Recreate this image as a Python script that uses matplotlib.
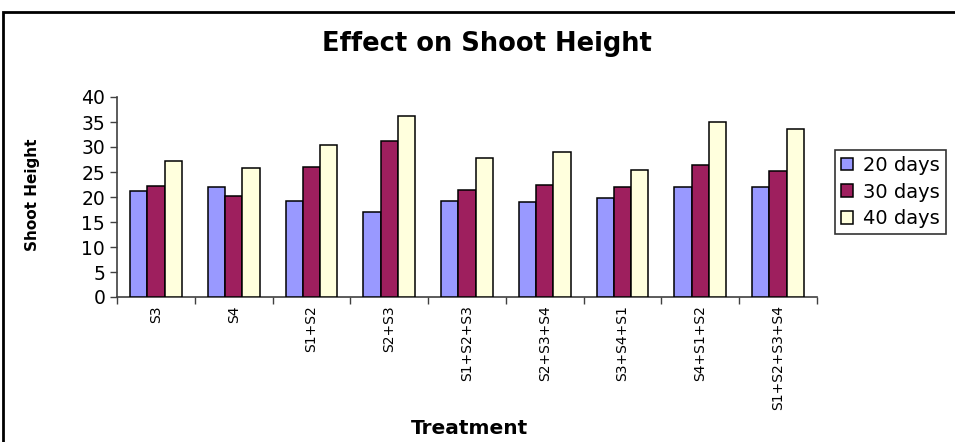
import matplotlib.pyplot as plt
import numpy as np
from matplotlib.patches import Rectangle

treatments = ["S3", "S4", "S1+S2", "S2+S3", "S1+S2+S3", "S2+S3+S4",
              "S3+S4+S1", "S4+S1+S2", "S1+S2+S3+S4"]
days20 = [21.3, 22.0, 19.3, 17.1, 19.3, 19.1, 19.8, 22.1, 22.1]
days30 = [22.2, 20.2, 26.0, 31.3, 21.5, 22.4, 22.1, 26.4, 25.2]
days40 = [27.3, 25.8, 30.4, 36.2, 27.8, 29.0, 25.4, 35.1, 33.7]
series = [("20 days", days20, "#9999FF"),
          ("30 days", days30, "#9E1F5E"),
          ("40 days", days40, "#FFFFDD")]

W, H = 955, 442
fig = plt.figure(figsize=(W / 100, H / 100), dpi=100)
fig.patch.set_facecolor("white")

# outer chart border (runs off the right and bottom edges)
fig.patches.append(Rectangle((3 / W, -0.2), 1.2, 1.2 - 12 / H,
                             transform=fig.transFigure, fill=False,
                             lw=2, edgecolor="black", zorder=0))

ax = fig.add_axes([117 / W, 1 - 297 / H, 700 / W, 200 / H])

x = np.arange(len(treatments))
bw = 0.222
for i, (name, vals, col) in enumerate(series):
    ax.bar(x + (i - 1) * bw, vals, width=bw, color=col, edgecolor="black",
           linewidth=1.1, label=name, zorder=3)

ax.set_xlim(-0.5, len(treatments) - 0.5)
ax.set_ylim(0, 40)
ax.set_yticks(np.arange(0, 41, 5))
ax.tick_params(axis="y", direction="out", length=5, width=1, pad=3.5,
               labelsize=13.5, color="#404040")
ax.set_xticks(x)
ax.set_xticklabels(treatments, rotation=90, fontsize=10)
ax.tick_params(axis="x", which="major", length=0, pad=6)
ax.set_xticks(np.arange(-0.5, len(treatments), 1.0), minor=True)
ax.tick_params(axis="x", which="minor", direction="out", length=5, width=1,
               color="#404040")

for s in ("top", "right"):
    ax.spines[s].set_visible(False)
for s in ("left", "bottom"):
    ax.spines[s].set_color("#404040")
    ax.spines[s].set_linewidth(1.2)

fig.text(487 / W, 1 - 44 / H, "Effect on Shoot Height", ha="center",
         va="center", fontsize=18.5, fontweight="bold")
fig.text(33 / W, 1 - 195 / H, "Shoot Height", ha="center", va="center",
         rotation=90, fontsize=11, fontweight="bold")
fig.text(469 / W, 1 - 428 / H, "Treatment", ha="center", va="center",
         fontsize=14.5, fontweight="bold")

leg = fig.legend(loc="upper left", bbox_to_anchor=(835 / W, 1 - 150 / H),
                 fontsize=14, frameon=True, fancybox=False,
                 handlelength=0.65, handleheight=0.65, handletextpad=0.5,
                 borderpad=0.3, labelspacing=0.4, borderaxespad=0)
leg.get_frame().set_edgecolor("black")
leg.get_frame().set_linewidth(1.2)

fig.savefig("out.png", dpi=100, facecolor="white")
